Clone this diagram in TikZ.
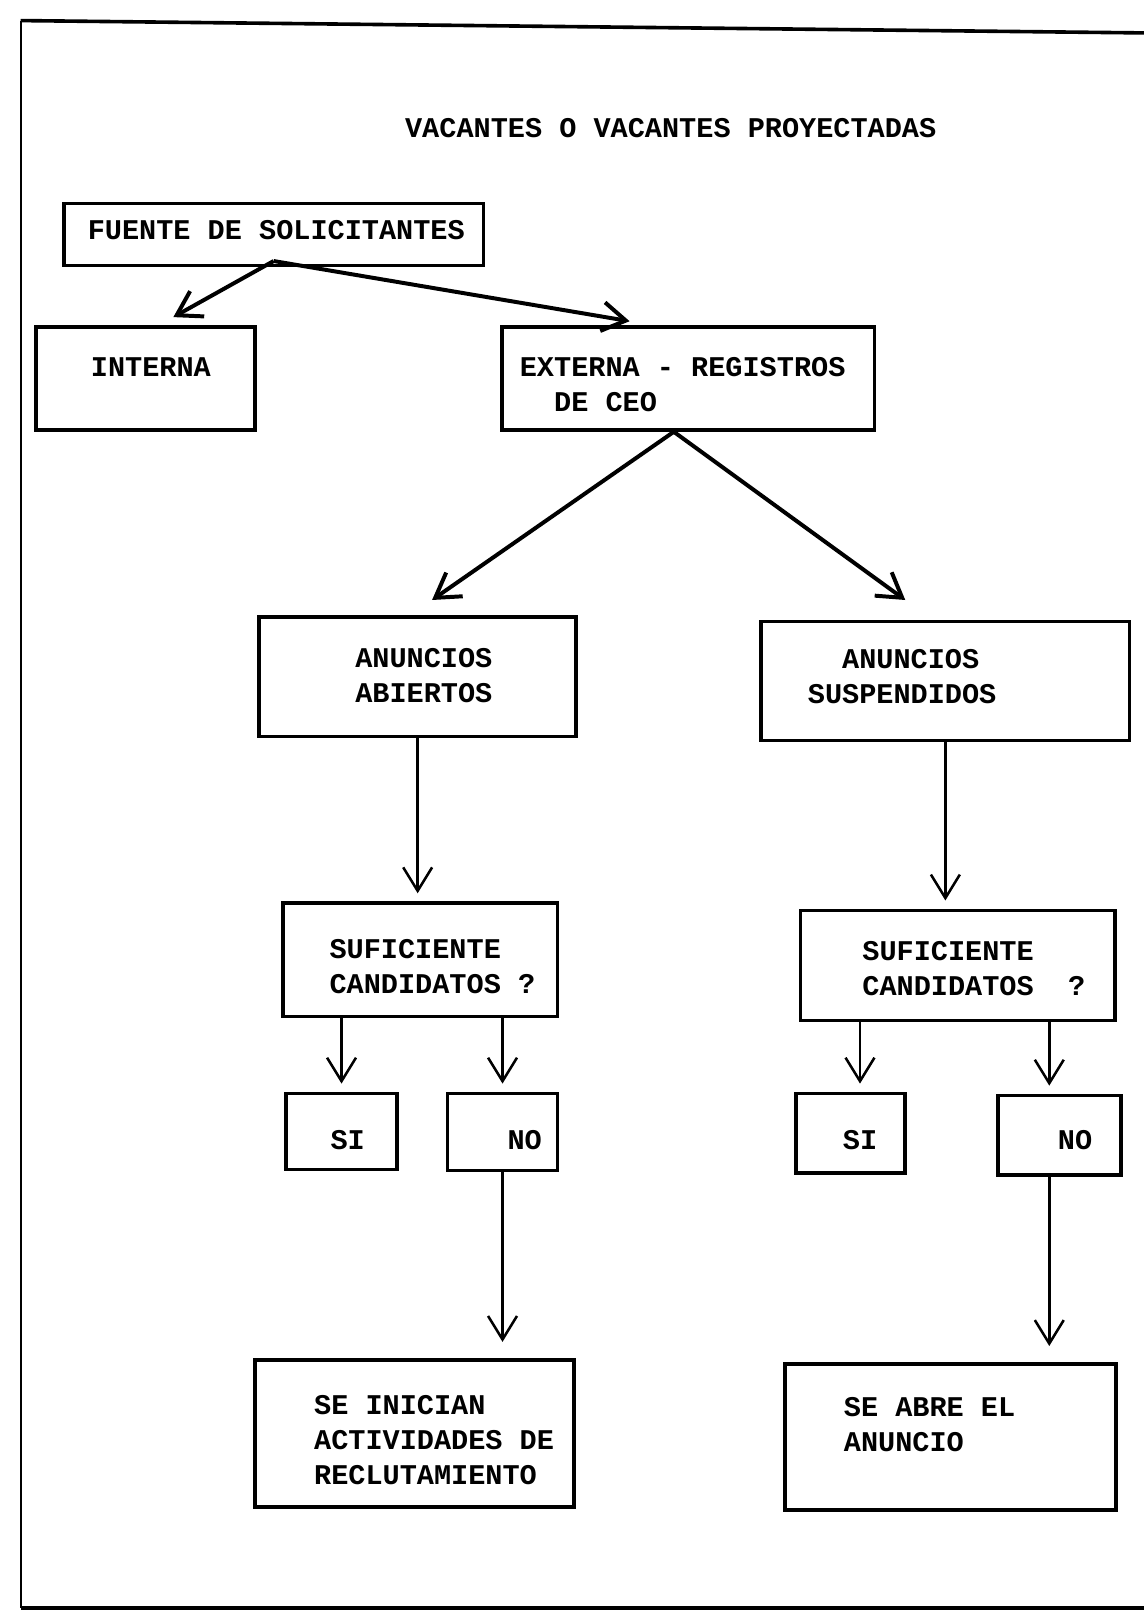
\documentclass[tikz,border=0pt]{standalone}
\usepackage{fontspec}
\setmonofont{Liberation Mono}
\usetikzlibrary{arrows.meta,calc}

\tikzset{
  box/.style={rectangle, draw, line width=2pt, inner sep=0pt},
  txt/.style={font=\ttfamily\bfseries\fontsize{15.8}{19.4}\selectfont, inner sep=0pt, align=left},
  link/.style={line width=1.4pt, shorten >=4.5pt},
  longlink/.style={line width=1.4pt, shorten >=9pt},
  slant/.style={line width=2.2pt},
}

\begin{document}
\begin{tikzpicture}[x=0.02cm, y=-0.02cm, ->, >={Straight Barb[length=13pt, width=16pt]}]

  \useasboundingbox (0,0) rectangle (1112,1568);

  % frame
  \draw[-, line width=1.1pt] (20,20) -- (20,1563);
  \draw[-, line width=2pt] (20,20) -- (1112,32);
  \draw[-, line width=1.8pt] (20,1563) -- (1112,1563);

  \node[txt] (title) at (652,125) {VACANTES O VACANTES PROYECTADAS};

  \node[box,
        minimum width = 8.16cm,
        minimum height = 1.2cm] (fuente) at (266,228) {};
  \node[txt, anchor=west] at (85,224) {FUENTE DE SOLICITANTES};

  \node[box,
        minimum width = 4.26cm,
        minimum height = 2cm] (interna) at (141.5,368) {};
  \node[txt, anchor=west] at (88,357) {INTERNA};

  \node[box,
        minimum width = 7.24cm,
        minimum height = 2cm] (externa) at (669,368) {};
  \node[txt, anchor=west] at (505,373.5) {EXTERNA - REGISTROS\\\hphantom{XX}DE CEO};

  \node[box,
        minimum width = 6.16cm,
        minimum height = 2.32cm] (abiertos) at (406,658) {};
  \node[txt, anchor=west] at (345,657) {ANUNCIOS\\ABIERTOS};

  \node[box,
        minimum width = 7.16cm,
        minimum height = 2.32cm] (suspend) at (919,662) {};
  \node[txt, anchor=west] at (785,657.5) {\hphantom{XX}ANUNCIOS\\SUSPENDIDOS};

  \node[box,
        minimum width = 5.34cm,
        minimum height = 2.2cm] (suf1) at (408.5,933) {};
  \node[txt, anchor=west] at (320,939.5) {SUFICIENTE\\CANDIDATOS ?};

  \node[box,
        minimum width = 6.12cm,
        minimum height = 2.14cm] (suf2) at (931,938.5) {};
  \node[txt, anchor=west] at (838,941.5) {SUFICIENTE\\CANDIDATOS\ \ ?};

  \node[box,
        minimum width = 2.16cm,
        minimum height = 1.48cm] (si1) at (332,1100) {};
  \node[txt] at (338,1108) {SI};

  \node[box,
        minimum width = 2.14cm,
        minimum height = 1.5cm] (no1) at (488.5,1100.5) {};
  \node[txt] at (510,1108) {NO};

  \node[box,
        minimum width = 2.12cm,
        minimum height = 1.54cm] (si2) at (827,1101.5) {};
  \node[txt] at (836,1108) {SI};

  \node[box,
        minimum width = 2.4cm,
        minimum height = 1.54cm] (no2) at (1030,1103.5) {};
  \node[txt] at (1045,1108) {NO};

  \node[box,
        minimum width = 6.2cm,
        minimum height = 2.86cm] (inician) at (403,1393.5) {};
  \node[txt, anchor=west] at (305,1400) {SE INICIAN\\ACTIVIDADES DE\\RECLUTAMIENTO};

  \node[box,
        minimum width = 6.44cm,
        minimum height = 2.84cm] (abre) at (924,1397) {};
  \node[txt, anchor=west] at (820,1384.5) {SE ABRE EL\\ANUNCIO};

  \coordinate (si2in) at ($(si2.north)+(9,0)$);
  \coordinate (no2in) at ($(no2.north)+(-10,0)$);

  % source paths
  \draw[slant] ($(fuente.south)+(0,-6)$) -- ($(interna.north)+(27,-8)$);
  \draw[slant] ($(fuente.south)+(0,-6)$) -- ($(externa.north)+(-57,-4)$);
  \draw[slant] ($(externa.south)+(-14,0)$) -- ($(abiertos.north)+(14,-15)$);
  \draw[slant] ($(externa.south)+(-14,0)$) -- ($(suspend.north)+(-39,-19)$);
  % left branch
  \draw[link] (abiertos.south) -- (abiertos.south |- suf1.north);
  \draw[link] (si1.north |- suf1.south) -- (si1.north);
  \draw[link] (no1.north |- suf1.south) -- (no1.north);
  \draw[longlink] (no1.south) -- (no1.south |- inician.north);
  % right branch
  \draw[link] (suspend.south) -- (suspend.south |- suf2.north);
  \draw[link] (si2in |- suf2.south) -- (si2in);
  \draw[link] (no2in |- suf2.south) -- (no2in);
  \draw[longlink] (no2in |- no2.south) -- (no2in |- abre.north);

\end{tikzpicture}
\end{document}
